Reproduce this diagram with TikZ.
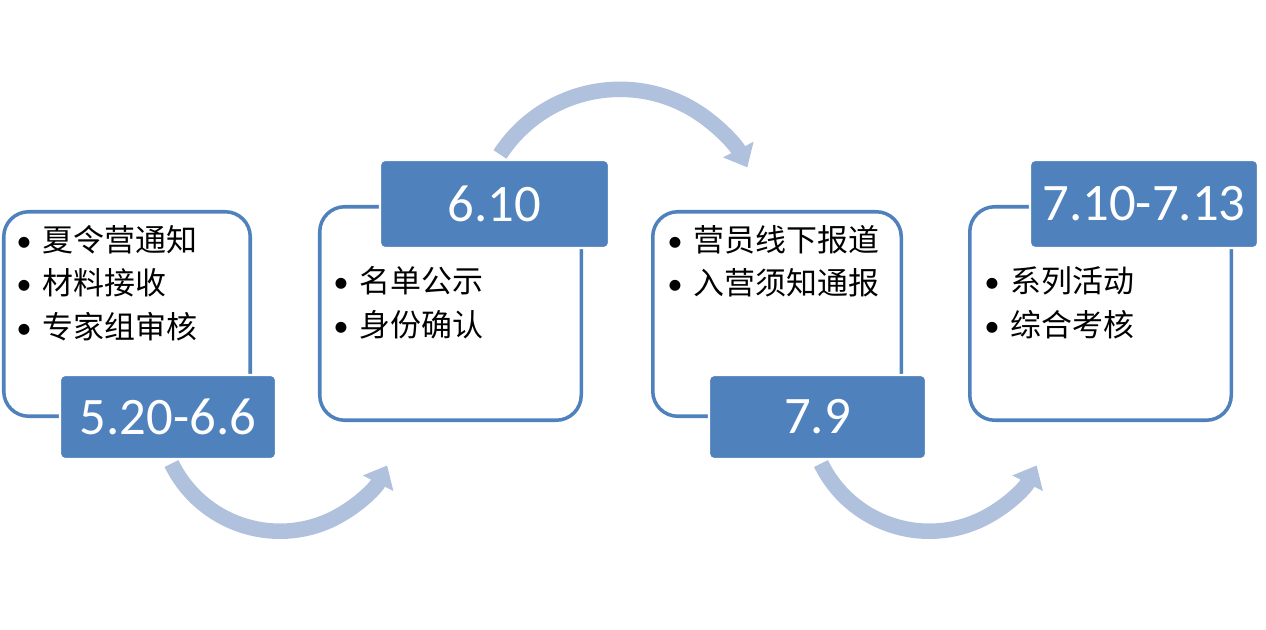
\documentclass[tikz,border=0pt]{standalone}
\usepackage{fontspec}
\setmainfont{Carlito}
\newfontfamily\cjk{Noto Sans CJK SC}
\usepackage{xcolor}
\usetikzlibrary{arrows.meta,positioning,backgrounds}
\definecolor{stepblue}{HTML}{4F81BD}
\definecolor{flowblue}{HTML}{B0C1DD}
\newcommand{\itm}[1]{\makebox[0.52cm][l]{\textbullet}{\cjk #1}}

\begin{document}
\begin{tikzpicture}[
  card/.style={rectangle, rounded corners=0.5cm, draw=stepblue,
               line width=2pt, fill=white},
  datebox/.style={rectangle, rounded corners=0.1cm, fill=stepblue,
                  draw=white, line width=1.2pt, text=white,
                  font=\fontsize{30}{36}\selectfont},
  items/.style={align=left, inner sep=0pt, anchor=west,
                font=\fontsize{17.6}{24.7}\selectfont},
  flow/.style={flowblue, line width=0.31cm,
               -{Triangle[width=0.66cm,length=0.40cm]}}
]
  \useasboundingbox (0,0) rectangle (25.32,12.58);

  \node[card, minimum width=4.93cm, minimum height=4.09cm] (c1) at (2.54,6.30) {};
  \node[card, minimum width=5.23cm, minimum height=4.27cm] (c2) at (9.01,6.31) {};
  \node[card, minimum width=4.97cm, minimum height=4.09cm] (c3) at (15.54,6.30) {};
  \node[card, minimum width=5.23cm, minimum height=4.27cm] (c4) at (22.01,6.31) {};

  \node[datebox, minimum width=4.32cm, minimum height=1.68cm] (d1) at (3.36,4.24) {5.20-6.6};
  \node[datebox, minimum width=4.58cm, minimum height=1.76cm] (d2) at (9.89,8.50) {6.10};
  \node[datebox, minimum width=4.34cm, minimum height=1.68cm] (d3) at (16.35,4.24) {7.9};
  \node[datebox, minimum width=4.56cm, minimum height=1.76cm] (d4) at (22.88,8.50) {7.10-7.13};

  \node[items] (l1) at (0.32,6.92) {\itm{夏令营通知}\\ \itm{材料接收}\\ \itm{专家组审核}};
  \node[items] (l2) at (6.66,6.52) {\itm{名单公示}\\ \itm{身份确认}};
  \node[items] (l3) at (13.34,7.35) {\itm{营员线下报道}\\ \itm{入营须知通报}};
  \node[items] (l4) at (19.68,6.52) {\itm{系列活动}\\ \itm{综合考核}};

  % curved hand-over arrows
  \begin{scope}[on background layer]
    \draw[flow] ([xshift=0.07cm,yshift=-0.07cm]d1.south) arc[start angle=206, end angle=333, radius=2.41cm];
    \draw[flow] ([xshift=0.11cm,yshift=0.09cm]d2.north) arc[start angle=147, end angle=27, radius=2.86cm];
    \draw[flow] ([xshift=0.07cm,yshift=-0.07cm]d3.south) arc[start angle=206, end angle=333, radius=2.41cm];
  \end{scope}
\end{tikzpicture}
\end{document}
